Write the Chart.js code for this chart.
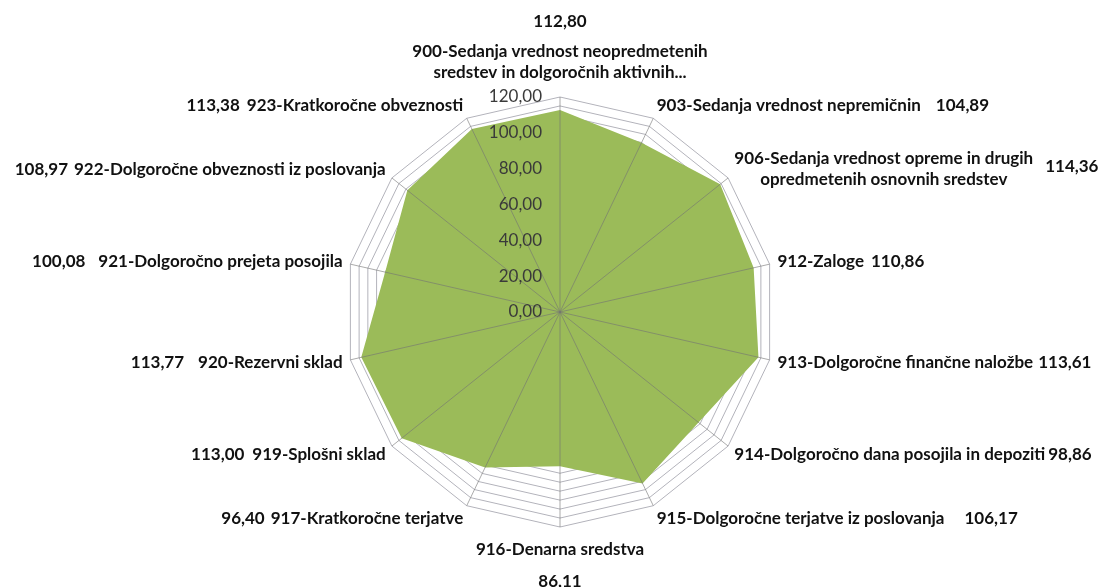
<!DOCTYPE html>
<html>
<head>
<meta charset="utf-8">
<script src="https://cdn.jsdelivr.net/npm/chart.js@4/dist/chart.umd.min.js"></script>
<style>
  html, body { margin: 0; padding: 0; background: #ffffff; }
  #wrap { width: 1109px; height: 587px; position: relative; }
</style>
</head>
<body>
<div id="wrap"><canvas id="c"></canvas></div>
<script>
const categories = [
  ["900-Sedanja vrednost neopredmetenih", "sredstev in dolgoročnih aktivnih..."],
  "903-Sedanja vrednost nepremičnin",
  ["906-Sedanja vrednost opreme in drugih", "opredmetenih osnovnih sredstev"],
  "912-Zaloge",
  "913-Dolgoročne finančne naložbe",
  "914-Dolgoročno dana posojila in depoziti",
  "915-Dolgoročne terjatve iz poslovanja",
  "916-Denarna sredstva",
  "917-Kratkoročne terjatve",
  "919-Splošni sklad",
  "920-Rezervni sklad",
  "921-Dolgoročno prejeta posojila",
  "922-Dolgoročne obveznosti iz poslovanja",
  "923-Kratkoročne obveznosti"
];
const values = [112.80, 104.89, 114.36, 110.86, 113.61, 98.86, 106.17, 86.11, 96.40, 113.00, 113.77, 100.08, 108.97, 113.38];
const tickValues = [0, 20, 40, 60, 80, 100, 120];

const fmt = v => v.toFixed(2).replace('.', ',');

// gap (px) between category name and its value label
const valueGaps = [0, 15, 12, 7, 5, 3, 20, 0, 6, 8, 14, 13, 6, 7];

const LABEL_FONT = 'bold 17px Lato';
const TICK_FONT = '17px Lato';
const LH = 21;

const overlayPlugin = {
  id: 'overlay',
  afterDatasetsDraw(chart) {
    const s = chart.scales.r;
    const ctx = chart.ctx;
    const n = categories.length;
    ctx.save();
    ctx.strokeStyle = 'rgba(115,115,115,0.6)';
    ctx.lineWidth = 1;
    for (let i = 0; i < n; i++) {
      const p = s.getPointPosition(i, s.drawingArea);
      ctx.beginPath();
      ctx.moveTo(s.xCenter, s.yCenter);
      ctx.lineTo(p.x, p.y);
      ctx.stroke();
    }
    ctx.font = TICK_FONT;
    ctx.fillStyle = '#3a3a3a';
    ctx.textAlign = 'right';
    ctx.textBaseline = 'middle';
    tickValues.forEach(v => {
      const y = s.yCenter - s.getDistanceFromCenterForValue(v);
      ctx.fillText(fmt(v), s.xCenter - 18, y);
    });
    ctx.restore();
  },
  afterDraw(chart) {
    const s = chart.scales.r;
    const ctx = chart.ctx;
    const n = categories.length;
    ctx.save();
    ctx.font = LABEL_FONT;
    ctx.fillStyle = '#111111';
    ctx.textBaseline = 'middle';
    for (let i = 0; i < n; i++) {
      const lines = Array.isArray(categories[i]) ? categories[i] : [categories[i]];
      const val = fmt(values[i]);
      const deg = Math.round(s.getIndexAngle(i) * 180 / Math.PI);
      const w = Math.max(...lines.map(l => ctx.measureText(l).width));
      const h = lines.length * LH;
      if (deg === 0) {
        const bottom = s.yCenter - s.drawingArea - 14;
        ctx.textAlign = 'center';
        lines.forEach((l, k) => ctx.fillText(l, s.xCenter, bottom - h + LH / 2 + k * LH));
        ctx.fillText(val, s.xCenter, bottom - h + LH / 2 - 30);
      } else if (deg === 180) {
        const top = s.yCenter + s.drawingArea + 12;
        ctx.textAlign = 'center';
        lines.forEach((l, k) => ctx.fillText(l, s.xCenter, top + LH / 2 + k * LH));
        ctx.fillText(val, s.xCenter, top + LH / 2 + (lines.length - 1) * LH + 32);
      } else {
        const ax = s.getPointPosition(i, s.drawingArea + 8).x;
        const ay = s.getPointPosition(i, s.drawingArea + 14).y;
        const right = deg < 180;
        const left = right ? ax : ax - w;
        ctx.textAlign = 'center';
        lines.forEach((l, k) => ctx.fillText(l, left + w / 2, ay - h / 2 + LH / 2 + k * LH));
        const vy = lines.length > 1 ? ay - 3 : ay;
        if (right) {
          ctx.textAlign = 'left';
          ctx.fillText(val, left + w + valueGaps[i], vy);
        } else {
          ctx.textAlign = 'right';
          ctx.fillText(val, left - valueGaps[i], vy);
        }
      }
    }
    ctx.restore();
  }
};

function build() {
  new Chart(document.getElementById('c'), {
    type: 'radar',
    data: {
      labels: categories,
      datasets: [{
        data: values,
        backgroundColor: '#9BBB59',
        borderWidth: 0,
        pointRadius: 0,
        fill: true
      }]
    },
    options: {
      responsive: true,
      maintainAspectRatio: false,
      animation: false,
      layout: { padding: { top: 97, bottom: 60, left: 11, right: 0 } },
      plugins: { legend: { display: false }, tooltip: { enabled: false } },
      scales: {
        r: {
          min: 0,
          max: 120,
          ticks: { display: false, stepSize: 5, showLabelBackdrop: false },
          grid: { color: '#b3b3bb', lineWidth: 1 },
          angleLines: { display: false },
          pointLabels: { display: false }
        }
      }
    },
    plugins: [overlayPlugin]
  });
}
if (document.fonts && document.fonts.load) {
  Promise.all([document.fonts.load('bold 17px Lato'), document.fonts.load('17px Lato')]).then(build, build);
} else { build(); }
</script>
</body>
</html>
